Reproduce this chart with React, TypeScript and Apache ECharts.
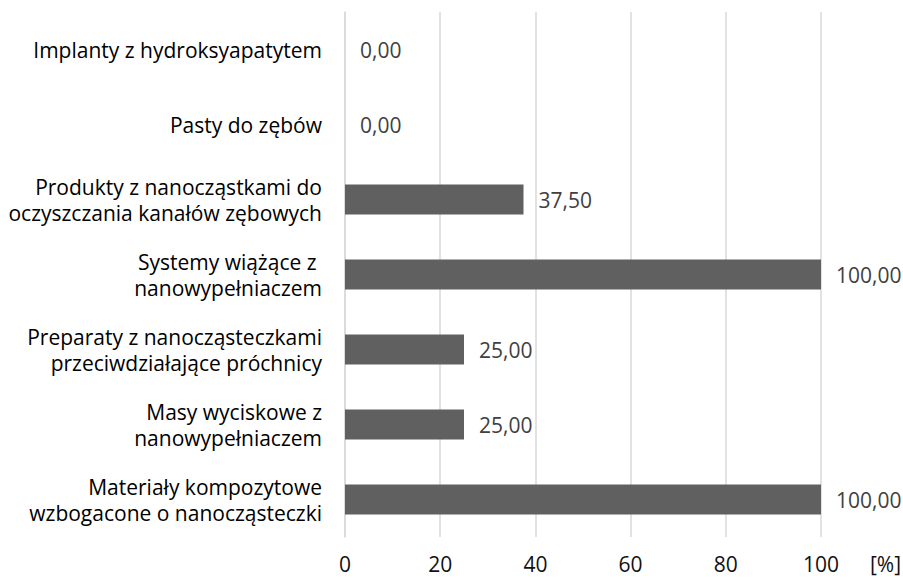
import React, { useEffect, useRef } from "react";
import * as echarts from "echarts";

const categories = [
  "Implanty z hydroksyapatytem",
  "Pasty do zębów",
  "Produkty z nanocząstkami do\noczyszczania kanałów zębowych",
  "Systemy wiążące z \nnanowypełniaczem",
  "Preparaty z nanocząsteczkami\nprzeciwdziałające próchnicy",
  "Masy wyciskowe z\nnanowypełniaczem",
  "Materiały kompozytowe\nwzbogacone o nanocząsteczki",
];
const values = [0, 0, 37.5, 100, 25, 25, 100];
const xTicks = [0, 20, 40, 60, 80, 100];
const unitLabel = "[%]";

const FONT = "'Open Sans', sans-serif";
const FS = 21;

export default function App() {
  const ref = useRef<HTMLDivElement>(null);
  useEffect(() => {
    if (!ref.current) return;
    document.body.style.margin = "0";
    const chart = echarts.init(ref.current, null, { renderer: "svg" });
    chart.setOption({
      animation: false,
      backgroundColor: "#ffffff",
      grid: { left: 345, right: 82, top: 12, bottom: 41, containLabel: false },
      xAxis: {
        type: "value",
        min: xTicks[0],
        max: xTicks[xTicks.length - 1],
        interval: 20,
        axisLine: { show: false },
        axisTick: { show: false },
        splitLine: { show: true, lineStyle: { color: "#d9d9d9", width: 1.5 } },
        axisLabel: {
          color: "#111111",
          fontFamily: FONT,
          fontSize: FS,
          lineHeight: 22,
          margin: 16,
        },
      },
      yAxis: {
        type: "category",
        data: categories,
        inverse: true,
        axisLine: { show: true, lineStyle: { color: "#d9d9d9", width: 1.5 } },
        axisTick: { show: false },
        axisLabel: {
          color: "#000000",
          fontFamily: FONT,
          fontSize: FS,
          lineHeight: 26,
          align: "right",
          margin: 23,
        },
      },
      series: [
        {
          type: "bar",
          data: values,
          barWidth: 30,
          itemStyle: { color: "#606060" },
          label: {
            show: true,
            position: "right",
            distance: 15,
            color: "#404040",
            fontFamily: FONT,
            fontSize: FS,
            formatter: (p: any) => Number(p.value).toFixed(2).replace(".", ","),
          },
        },
      ],
      graphic: [
        {
          type: "text",
          x: 870,
          y: 564,
          style: {
            text: unitLabel,
            fill: "#111111",
            font: `${FS}px ${FONT}`,
            textAlign: "left",
            textVerticalAlign: "middle",
          },
        },
      ],
    });
    return () => chart.dispose();
  }, []);
  return <div ref={ref} style={{ width: 903, height: 578 }} />;
}
